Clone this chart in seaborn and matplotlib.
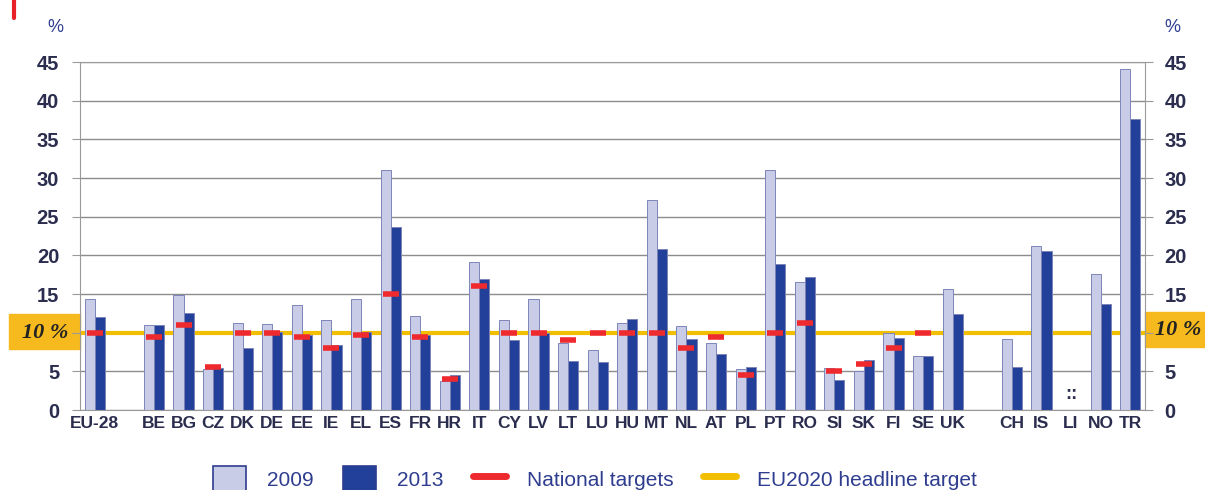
import numpy as np
import pandas as pd
import matplotlib
matplotlib.use("Agg")
import matplotlib.pyplot as plt
import matplotlib.transforms as mtransforms
from matplotlib.patches import Patch, Rectangle
from matplotlib.lines import Line2D
import seaborn as sns

# ----------------------------
# data (%)
# ----------------------------
countries = ["EU-28", "BE", "BG", "CZ", "DK", "DE", "EE", "IE", "EL", "ES",
             "FR", "HR", "IT", "CY", "LV", "LT", "LU", "HU", "MT", "NL",
             "AT", "PL", "PT", "RO", "SI", "SK", "FI", "SE", "UK",
             "CH", "IS", "LI", "NO", "TR"]
v2009 = [14.4, 11.0, 14.9, 5.3, 11.3, 11.1, 13.6, 11.7, 14.3, 31.0,
         12.1, 3.8, 19.2, 11.7, 14.3, 8.7, 7.7, 11.2, 27.1, 10.9,
         8.7, 5.3, 31.0, 16.6, 5.4, 5.1, 9.9, 7.0, 15.6,
         9.2, 21.2, np.nan, 17.6, 44.1]
v2013 = [12.0, 11.0, 12.6, 5.4, 8.0, 10.1, 9.7, 8.4, 10.1, 23.6,
         9.7, 4.5, 16.9, 9.1, 10.0, 6.4, 6.2, 11.8, 20.8, 9.2,
         7.3, 5.6, 18.9, 17.2, 3.9, 6.5, 9.3, 7.0, 12.4,
         5.5, 20.5, np.nan, 13.7, 37.6]
national_targets = [10, 9.5, 11, 5.5, 10, 10, 9.5, 8, 9.7, 15,
                    9.5, 4, 16, 10, 10, 9, 10, 10, 10, 8,
                    9.5, 4.5, 10, 11.3, 5, 6, 8, 10, np.nan,
                    np.nan, np.nan, np.nan, np.nan, np.nan]
eu_target = 10
years = ["2009", "2013"]
yticks = list(range(0, 50, 5))
ytick_labels = ["" if t == eu_target else str(t) for t in yticks]

# category order with blank slots between groups
order = ["EU-28", " "] + countries[1:29] + ["  "] + countries[29:]

df = pd.DataFrame({"country": countries * 2,
                   "year": ["2009"] * len(countries) + ["2013"] * len(countries),
                   "value": v2009 + v2013}).dropna()

light = "#C9CCE6"
dark = "#22409A"
red = "#EE2A2F"
yellow = "#F2BE00"
txt = "#2B2D4E"
navy = "#2E3D8F"

sns.set_style("white")
plt.rcParams["font.family"] = ["Liberation Sans", "DejaVu Sans"]

fig = plt.figure(figsize=(12.05, 4.9), dpi=100)
ax = fig.add_axes([80 / 1205, 1 - 410 / 490, 1065 / 1205, 348 / 490])

# EU2020 headline target line (behind bars)
ax.axhline(eu_target, color=yellow, lw=3, zorder=1)

sns.barplot(data=df, x="country", y="value", hue="year", order=order,
            hue_order=years, palette=[light, dark], width=0.68,
            edgecolor="#7D84B8", linewidth=0.7, saturation=1,
            legend=False, ax=ax, zorder=2)

# national targets
pos = [order.index(c) for c in countries]
ax.hlines(national_targets, np.array(pos) - 0.27, np.array(pos) + 0.27,
          color=red, lw=4, zorder=4)

# LI: not available
ax.text(order.index("LI"), 2.0, "::", ha="center", va="center",
        fontsize=13, fontweight="bold", color=txt)

ax.set_xlim(-0.5, len(order) - 0.5)
ax.set_ylim(0, 45)
ax.set_yticks(yticks, ytick_labels)
ax.yaxis.grid(True, color="#8C8C8C", lw=1)
ax.set_axisbelow(True)
ax.set_xlabel("")
ax.set_ylabel("")
for s in ax.spines.values():
    s.set_color("#9A9A9A")
ax.tick_params(axis="x", length=0, labelsize=12.5, labelcolor=txt, pad=4)
ax.tick_params(axis="y", length=6, color="#9A9A9A", labelsize=14.5,
               labelcolor=txt, pad=9)
for lab in ax.get_xticklabels() + ax.get_yticklabels():
    lab.set_fontweight("bold")

ax2 = ax.twinx()
ax2.set_ylim(0, 45)
ax2.set_yticks(yticks, ytick_labels)
ax2.tick_params(axis="y", length=6, color="#9A9A9A", labelsize=14.5,
                labelcolor=txt, pad=8)
for lab in ax2.get_yticklabels():
    lab.set_fontweight("bold")
for s in ax2.spines.values():
    s.set_visible(False)

# "%" unit labels
fig.text(55 / 1205, 1 - 28 / 490, "%", ha="center", va="center", fontsize=13, color=navy)
fig.text(1172 / 1205, 1 - 28 / 490, "%", ha="center", va="center", fontsize=13, color=navy)

# "10 %" boxes on both sides
box = "#F6BA1E"
trans = mtransforms.blended_transform_factory(fig.transFigure, ax.transData)
ax.add_patch(Rectangle((9 / 1205, 7.9), 71 / 1205, 4.5, transform=trans,
                       color=box, clip_on=False, zorder=0))
ax.add_patch(Rectangle((1145 / 1205, 8.1), 60 / 1205, 4.6, transform=trans,
                       color=box, clip_on=False, zorder=0))
ax.text(45 / 1205, 10.0, "10 %", transform=trans, ha="center", va="center",
        fontsize=16, fontstyle="italic", fontweight="bold",
        family=["Liberation Serif", "DejaVu Serif"], color="#222222")
ax.text(1178 / 1205, 10.3, "10 %", transform=trans, ha="center", va="center",
        fontsize=16, fontstyle="italic", fontweight="bold",
        family=["Liberation Serif", "DejaVu Serif"], color="#222222")

# small red mark top-left
fig.add_artist(Line2D([14 / 1205, 14 / 1205], [1 - 18 / 490, 1.0],
                      transform=fig.transFigure, color="#E8202A", lw=3))

# legend
handles = [Patch(facecolor=light, edgecolor=navy, lw=1.2, label="2009"),
           Patch(facecolor=dark, edgecolor=navy, lw=1.2, label="2013"),
           Line2D([], [], color=red, lw=5, label="National targets"),
           Line2D([], [], color=yellow, lw=5, label="EU2020 headline target")]
leg = fig.legend(handles=handles, loc="center", ncol=4, frameon=False,
                 bbox_to_anchor=(595 / 1205, 1 - 479 / 490),
                 fontsize=15, handlelength=1.6, handleheight=1.6,
                 columnspacing=1.4, handletextpad=1.0)
for t in leg.get_texts():
    t.set_color(navy)

fig.savefig("out.png", dpi=100)
